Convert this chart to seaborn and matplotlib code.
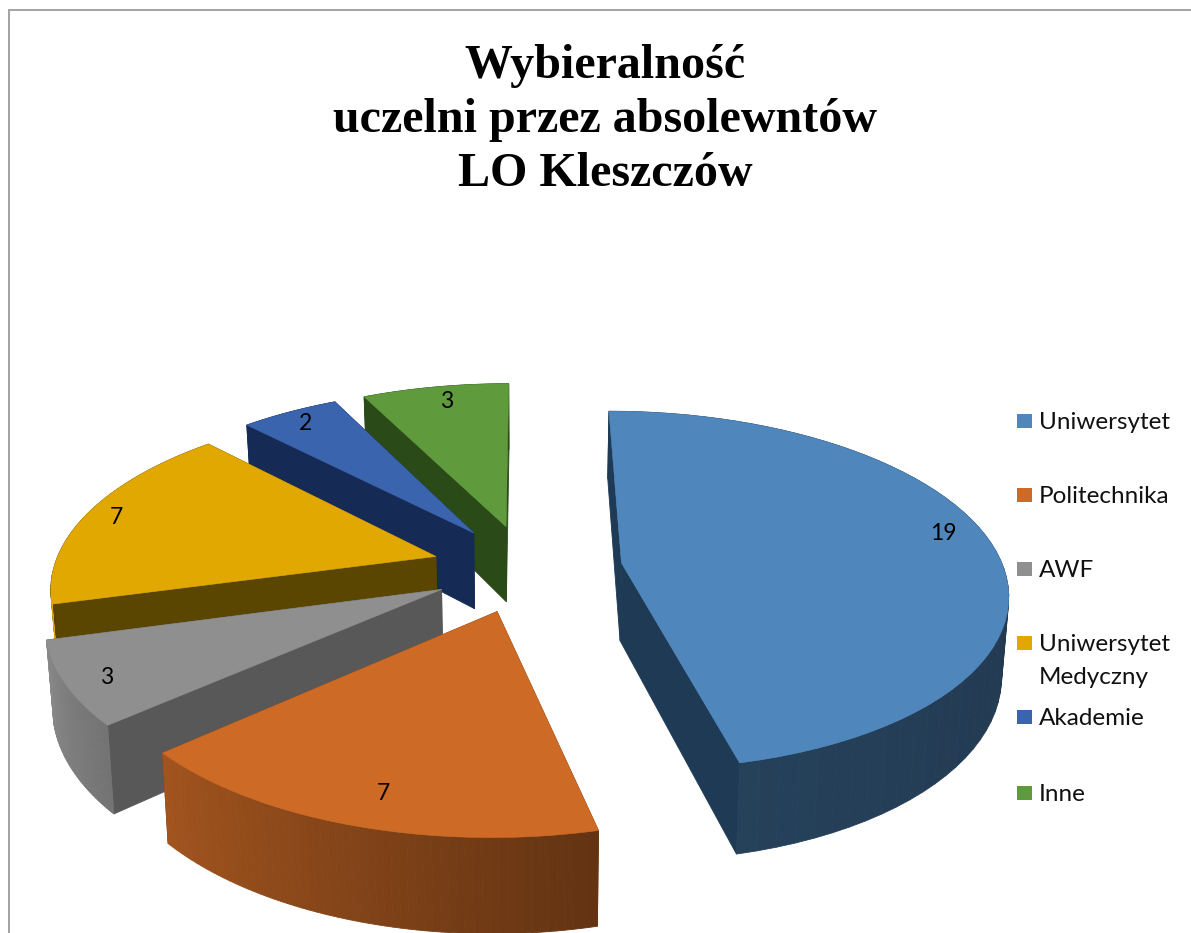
import numpy as np
import matplotlib
matplotlib.use("Agg")
import matplotlib.pyplot as plt
import seaborn as sns

sns.set_theme(style="white")

# dane
categories = ["Uniwersytet", "Politechnika", "AWF", "Uniwersytet\nMedyczny", "Akademie", "Inne"]
values = [19, 7, 3, 7, 2, 3]
top_colors = ["#4F87BD", "#CC6A26", "#8F8F8F", "#E0A800", "#3B64AE", "#5F9A3C"]
cut_colors = ["#1F3A55", "#7A3F16", "#585858", "#5A4600", "#152A55", "#2A4A18"]
title_text = "Wybieralność\nuczelni przez absolewntów\nLO Kleszczów"

# parametry rzutu 3D (perspektywa)
cx, a_x, y_v, a_y, k = 527, 382, -585, 1153, 0.153
explode = 0.25
depth = 78
shrink = 0.985


def project(u, v, z=0):
    s = 1 / (1 + k * v)
    x = cx + a_x * u * s
    y = y_v + a_y * s
    if z:
        x = cx + (x - cx) * shrink
        y = y + depth * s
    return x, y


def rim_shade(theta):
    # im bardziej w prawo, tym ciemniejszy bok
    return np.interp(theta, [0, 90, 166, 228, 255, 258, 360], [0.42, 0.42, 0.48, 0.80, 0.97, 0.4, 0.4])


def rim_color(color, theta):
    r, g, b = matplotlib.colors.to_rgb(color)
    f = rim_shade(theta)
    return (r * f, g * f, b * f)


fig = plt.figure(figsize=(11.91, 9.33), dpi=100, facecolor="white")
ax = fig.add_axes([0, 0, 1, 1])
ax.set_xlim(0, 1191)
ax.set_ylim(933, 0)
ax.axis("off")

# ramka wykresu
ax.plot([9, 9, 1191], [933, 10, 10], color="#A3A3A3", lw=1.4, solid_joinstyle="miter")

# katy wycinkow (zgodnie z ruchem wskazowek od gory)
vals = np.array(values, dtype=float)
edges = np.concatenate([[0], np.cumsum(vals)]) / vals.sum() * 360

# wycinki rysowane od tylu do przodu
order = [5, 4, 3, 2, 1, 0]
for i in order:
    t1, t2 = edges[i], edges[i + 1]
    mid = np.radians((t1 + t2) / 2)
    u0, v0 = explode * np.sin(mid), explode * np.cos(mid)
    th = np.radians(np.linspace(t1, t2, 61))
    us = u0 + np.sin(th)
    vs = v0 + np.cos(th)

    faces = []
    # sciany przekroju
    for uu, vv in [(us[0], vs[0]), (us[-1], vs[-1])]:
        pts = [project(u0, v0), project(uu, vv), project(uu, vv, 1), project(u0, v0, 1)]
        faces.append(((v0 + vv) / 2, pts, cut_colors[i]))
    # bok zewnetrzny, paski z cieniowaniem
    for j in range(len(th) - 1):
        pts = [project(us[j], vs[j]), project(us[j + 1], vs[j + 1]),
               project(us[j + 1], vs[j + 1], 1), project(us[j], vs[j], 1)]
        col = rim_color(top_colors[i], np.degrees(th[j]))
        faces.append(((vs[j] + vs[j + 1]) / 2, pts, col))
    faces.sort(key=lambda f: -f[0])
    for _, pts, col in faces:
        px, py = zip(*pts)
        ax.fill(px, py, color=col, lw=0.6, zorder=2 + order.index(i))

    # gorna powierzchnia
    px, py = project(np.r_[u0, us], np.r_[v0, vs])
    ax.fill(px, py, color=top_colors[i], lw=0.4, zorder=2 + order.index(i))

# etykiety wartosci
label_x = [943, 383, 107, 116, 305, 447]
label_y = [533, 793, 677, 518, 424, 402]
for x, y, val in zip(label_x, label_y, values):
    ax.text(x, y, str(val), ha="center", va="center", fontsize=16.5, family="Lato", color="black", zorder=20)

# tytul
ax.text(605, 120, title_text, ha="center", va="center", fontsize=34.6, fontweight="bold",
        family="Liberation Serif", color="black", linespacing=1.29, zorder=20)

# legenda
legend_y = [421, 495, 569, 643, 717, 793]
sns.scatterplot(x=[1024.5] * len(categories), y=legend_y, hue=categories, palette=top_colors,
                marker="s", s=115, linewidth=0, legend=False, ax=ax, zorder=20)
ax.set_xlim(0, 1191)
ax.set_ylim(933, 0)
ax.axis("off")
for y, name in zip(legend_y, categories):
    ax.text(1039, y - 9, name, ha="left", va="top", fontsize=17.5, family="Lato", color="#111111",
            linespacing=1.7, zorder=20)

fig.savefig("out.png", dpi=100)
